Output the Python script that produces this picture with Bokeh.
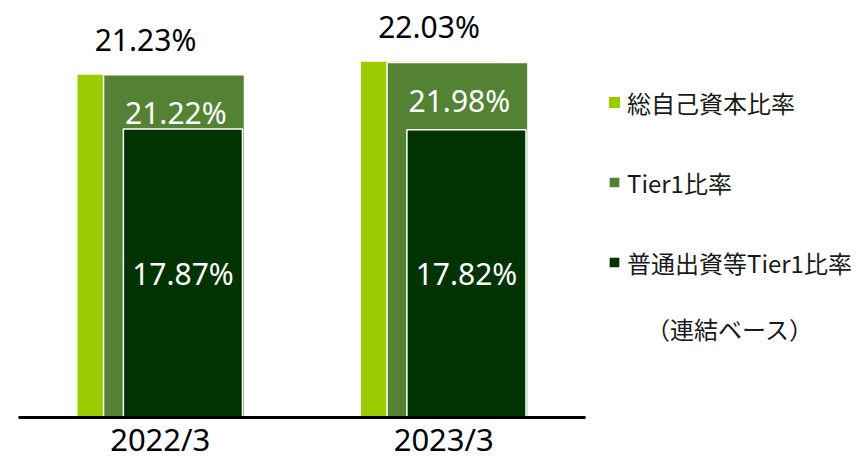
from bokeh.plotting import figure
from bokeh.models import (ColumnDataSource, Range1d, LabelSet, Label, Legend, LegendItem,
                          FixedTicker)
from bokeh.transform import dodge
from bokeh.core.properties import value
from bokeh.embed import file_html
from bokeh.resources import INLINE

# ---- data ----
categories = ["2022/3", "2023/3"]
total_ratio = [21.23, 22.03]      # 総自己資本比率
tier1_ratio = [21.22, 21.98]      # Tier1比率
cet1_ratio = [17.87, 17.82]       # 普通出資等Tier1比率
series_names = ["総自己資本比率", "Tier1比率", "普通出資等Tier1比率"]
note_text = "（連結ベース）"

colors = ["#99CC00", "#548235", "#003300"]
NUM_FONT = "Noto Sans"
JP_FONT = "Noto Sans CJK JP"

idx = list(range(len(categories)))
src = ColumnDataSource(dict(
    x=idx,
    total=total_ratio,
    tier1=tier1_ratio,
    cet1=cet1_ratio,
    cet1_mid=[v / 2 for v in cet1_ratio],
    total_lbl=[f"{v:.2f}%" for v in total_ratio],
    tier1_lbl=[f"{v:.2f}%" for v in tier1_ratio],
    cet1_lbl=[f"{v:.2f}%" for v in cet1_ratio],
))

W, H = 861, 464
p = figure(width=W, height=H, x_range=Range1d(-0.5635, 2.4735),
           y_range=Range1d(0, 25.82), output_backend="svg", toolbar_location=None,
           min_border_left=0, min_border_right=0, min_border_top=0, min_border_bottom=47)
p.outline_line_color = None
p.background_fill_color = "white"
p.border_fill_color = "white"
p.grid.visible = False
p.yaxis.visible = False

r1 = p.vbar(x=dodge("x", -0.052), top="total", width=0.48, bottom=0,
            source=src, fill_color=colors[0], line_color=None)
r2 = p.vbar(x=dodge("x", 0.0485), top="tier1", width=0.497, bottom=0,
            source=src, fill_color=colors[1], line_color="white", line_width=1.5)
r3 = p.vbar(x=dodge("x", 0.080), top="cet1", width=0.42, bottom=0,
            source=src, fill_color=colors[2], line_color="white", line_width=1.5)

ax = p.xaxis[0]
ax.ticker = FixedTicker(ticks=idx)
ax.major_label_overrides = {i: c for i, c in zip(idx, categories)}
ax.bounds = (-0.5, len(categories) - 0.5)
ax.axis_line_width = 3
ax.axis_line_color = "black"
ax.major_tick_line_color = None
ax.minor_tick_line_color = None
ax.major_label_text_font = NUM_FONT
ax.major_label_text_font_size = "31px"
ax.major_label_text_color = "black"
ax.major_label_standoff = 0
ax.major_tick_out = 0
ax.major_tick_in = 0

common = dict(source=src, text_font=value(NUM_FONT), text_font_size="30px", text_align="center",
              text_baseline="middle")
p.add_layout(LabelSet(x=dodge("x", -0.052), y="total", text="total_lbl",
                      y_offset=35, text_color="black", **common))
p.add_layout(LabelSet(x=dodge("x", 0.055), y="tier1", text="tier1_lbl",
                      y_offset=-38, text_color="white", **common))
p.add_layout(LabelSet(x=dodge("x", 0.080), y="cet1_mid", text="cet1_lbl",
                      text_color="white", **common))

# area legend glyphs are inset 10%, so 14px boxes give ~10px squares
legend = Legend(items=[LegendItem(label=n, renderers=[r]) for n, r in zip(series_names, [r1, r2, r3])],
                location=(607, 135), orientation="vertical",
                border_line_color=None, background_fill_alpha=0, padding=0, margin=0,
                spacing=40, label_height=40, glyph_height=14, glyph_width=14, label_standoff=6,
                label_text_font=JP_FONT, label_text_font_size="24px", label_text_color="#1a1a1a")
p.add_layout(legend)

p.add_layout(Label(x=2.01, y=5.51, text=note_text,
                   text_font=JP_FONT, text_font_size="24px",
                   text_align="center", text_baseline="middle", text_color="#1a1a1a"))

open("out.html", "w").write(file_html(p, INLINE))
